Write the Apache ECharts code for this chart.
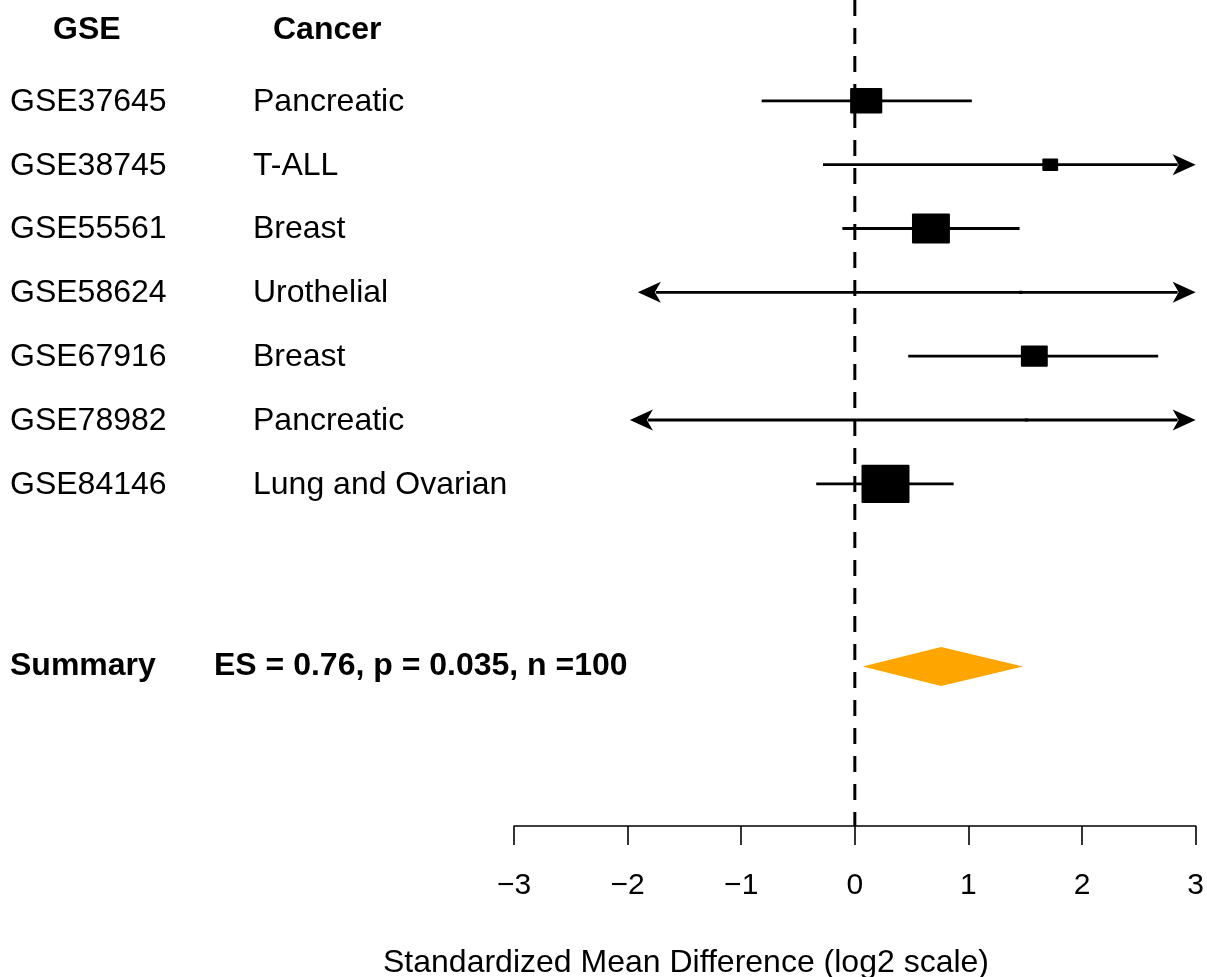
<!DOCTYPE html>
<html>
<head>
<meta charset="utf-8">
<title>Forest plot</title>
<script src="https://cdn.jsdelivr.net/npm/echarts@6.0.0/dist/echarts.min.js"></script>
<style>
  html, body { margin: 0; padding: 0; background: #fff; }
  #main { width: 1207px; height: 977px; }
</style>
</head>
<body>
<div id="main"></div>
<script>
// 数据
var gseIds = ['GSE37645', 'GSE38745', 'GSE55561', 'GSE58624', 'GSE67916', 'GSE78982', 'GSE84146'];
var cancers = ['Pancreatic', 'T-ALL', 'Breast', 'Urothelial', 'Breast', 'Pancreatic', 'Lung and Ovarian'];
var rowPos = [1, 2, 3, 4, 5, 6, 7];
var effect = [0.10, 1.72, 0.67, 1.46, 1.58, 1.51, 0.27];
var ciLower = [-0.82, -0.28, -0.11, -1.91, 0.47, -1.98, -0.34];
var ciUpper = [1.03, 3, 1.45, 3, 2.67, 3, 0.87];
var arrowLeft = [false, false, false, true, false, true, false];
var arrowRight = [false, true, false, true, false, true, false];
var weights = [0.67, 0.33, 0.79, 0.06, 0.56, 0.06, 1.0];

var summaryPos = 9.86;
var summaryES = 0.76;
var summaryLower = 0.07;
var summaryUpper = 1.48;
var summaryText = 'ES = 0.76, p = 0.035, n =100';

var headerPos = -0.11;

var FONT = '"Liberation Sans", Arial, Helvetica, sans-serif';

var myChart = echarts.init(document.getElementById('main'));

var forestData = [];
for (var i = 0; i < gseIds.length; i++) {
    forestData.push([rowPos[i], effect[i], ciLower[i], ciUpper[i], weights[i],
        arrowLeft[i] ? 1 : 0, arrowRight[i] ? 1 : 0]);
}

// 左侧文字
var textData = [];
textData.push({
    value: [-3, headerPos],
    label: { formatter: '{h1|GSE}{h2|Cancer}', position: [-461, 0] }
});
for (var j = 0; j < gseIds.length; j++) {
    textData.push({
        value: [-3, rowPos[j]],
        label: { formatter: '{id|' + gseIds[j] + '}{ca|' + cancers[j] + '}', position: [-504, 1] }
    });
}
textData.push({
    value: [-3, summaryPos],
    label: { formatter: '{s1|Summary}{s2|' + summaryText + '}', position: [-504, 0] }
});

function arrowHead(tip, y, dir) {
    // dir = 1 right, -1 left
    return {
        type: 'polygon',
        shape: { points: [[tip, y], [tip - dir * 23, y - 10.5], [tip - dir * 17, y], [tip - dir * 23, y + 10.5]] },
        style: { fill: '#000' }
    };
}

function renderForest(params, api) {
    var y = api.value(0);
    var c = api.coord([api.value(1), y]);
    var lo = api.coord([api.value(2), y]);
    var hi = api.coord([api.value(3), y]);
    var w = Math.max(api.value(4) * 48, 4);
    var h = Math.max(w / 1.26, 3);
    var x1 = api.value(5) ? lo[0] + 18 : lo[0];
    var x2 = api.value(6) ? hi[0] - 18 : hi[0];
    var children = [{
        type: 'line',
        shape: { x1: x1, y1: lo[1], x2: x2, y2: hi[1] },
        style: { stroke: '#000', lineWidth: 2.8 }
    }];
    if (api.value(5)) children.push(arrowHead(lo[0], lo[1], -1));
    if (api.value(6)) children.push(arrowHead(hi[0], hi[1], 1));
    children.push({
        type: 'rect',
        shape: { x: c[0] - w / 2, y: c[1] - h / 2, width: w, height: h, r: 1 },
        style: { fill: '#000' }
    });
    return { type: 'group', children: children };
}

function renderDiamond(params, api) {
    var y = api.value(0);
    var c = api.coord([api.value(1), y]);
    var lo = api.coord([api.value(2), y]);
    var hi = api.coord([api.value(3), y]);
    return {
        type: 'polygon',
        shape: { points: [[lo[0], c[1]], [c[0], c[1] - 19.5], [hi[0], c[1]], [c[0], c[1] + 19.5]] },
        style: { fill: '#FFA500' }
    };
}

var option = {
    backgroundColor: '#fff',
    animation: false,
    textStyle: { fontFamily: FONT, color: '#000' },
    grid: { left: 514, right: 10, top: 0, bottom: 151 },
    xAxis: {
        type: 'value',
        min: -3,
        max: 3,
        interval: 1,
        axisLine: { show: true, onZero: false, lineStyle: { color: '#000', width: 1.6 } },
        axisTick: { show: true, inside: false, length: 19, lineStyle: { color: '#000', width: 1.6 } },
        axisLabel: {
            color: '#000',
            fontSize: 30,
            fontFamily: FONT,
            margin: 45,
            formatter: function (v) { return String(v).replace('-', '\u2212'); }
        },
        splitLine: { show: false }
    },
    yAxis: {
        type: 'value',
        inverse: true,
        min: -0.58,
        max: 12.36,
        show: false
    },
    graphic: [{
        type: 'text',
        x: 686,
        y: 963,
        style: {
            text: 'Standardized Mean Difference (log2 scale)',
            fill: '#000',
            font: '32px ' + FONT,
            textAlign: 'center',
            textVerticalAlign: 'middle'
        }
    }],
    series: [
        {
            name: 'zero',
            type: 'line',
            symbol: 'none',
            silent: true,
            data: [[0, -0.58], [0, 12.36]],
            lineStyle: { color: '#000', width: 3, type: [16, 12] },
            z: 1
        },
        {
            name: 'studies',
            type: 'custom',
            clip: false,
            renderItem: renderForest,
            encode: { x: [1, 2, 3], y: 0 },
            data: forestData,
            z: 2
        },
        {
            name: 'summary',
            type: 'custom',
            clip: false,
            renderItem: renderDiamond,
            encode: { x: [1, 2, 3], y: 0 },
            data: [[summaryPos, summaryES, summaryLower, summaryUpper]],
            z: 2
        },
        {
            name: 'labels',
            type: 'scatter',
            symbolSize: 0,
            silent: true,
            itemStyle: { opacity: 1, color: '#000' },
            data: textData,
            label: {
                show: true,
                align: 'left',
                verticalAlign: 'middle',
                color: '#000',
                opacity: 1,
                fontFamily: FONT,
                rich: {
                    id: { fontSize: 32, width: 243, fontFamily: FONT, color: '#000' },
                    ca: { fontSize: 32, fontFamily: FONT, color: '#000' },
                    h1: { fontSize: 32, fontWeight: 'bold', width: 220, fontFamily: FONT, color: '#000' },
                    h2: { fontSize: 32, fontWeight: 'bold', fontFamily: FONT, color: '#000' },
                    s1: { fontSize: 32, fontWeight: 'bold', width: 204, fontFamily: FONT, color: '#000' },
                    s2: { fontSize: 32, fontWeight: 'bold', fontFamily: FONT, color: '#000' }
                }
            }
        }
    ]
};

myChart.setOption(option);
</script>
</body>
</html>
